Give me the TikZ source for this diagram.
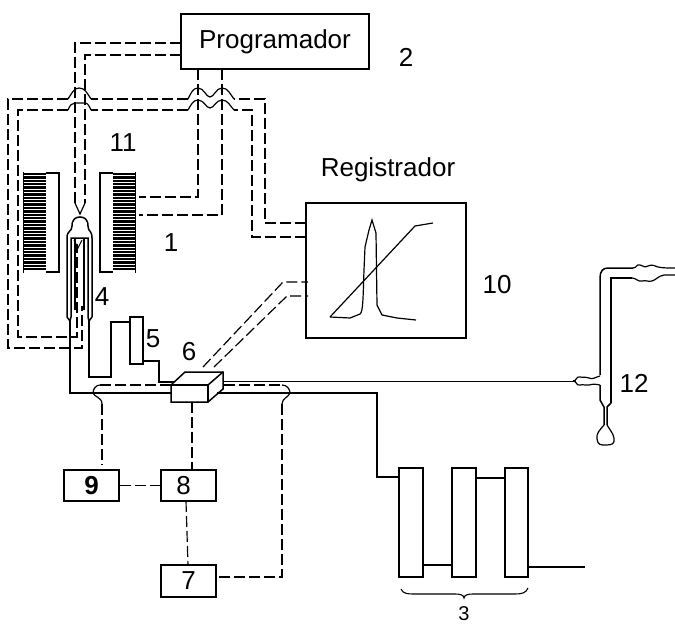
\documentclass[tikz,border=0pt]{standalone}
\usepackage{fontspec}
\setmainfont{Liberation Sans}
\tikzset{
  box/.style={draw=black,line width=1.4pt,fill=white,minimum height=31pt,minimum width=55pt,inner sep=0pt,font=\fontsize{26}{28}\selectfont},
  lbl/.style={inner sep=0pt,font=\fontsize{26}{28}\selectfont},
  sig/.style={draw=black,line width=1.15pt,dash pattern=on 11pt off 4pt},
  thinsig/.style={draw=black,line width=1.2pt,dash pattern=on 11pt off 4pt},
  jump/.style={draw=black,line width=1.2pt},
  pipe/.style={draw=black,line width=1.5pt},
  trace/.style={draw=black,line width=1.2pt},
  col/.style={draw=black,line width=1.4pt,fill=white},
  hatch/.style={draw=black,line width=2.5pt}
}
\begin{document}
\begin{tikzpicture}[x=1pt,y=-1pt]
\useasboundingbox (0,0) rectangle (675,629);
% signal lines Programador
\coordinate (pa) at (181,43); \coordinate (pb) at (181,55);
\draw[sig] (pa) -- (75,43) -- (75,203);
\draw[sig] (pb) -- (85,55) -- (85,203);
\draw[draw=black,line width=1.2pt] (75,203) -- (80,214) -- (85,203);
\draw[sig] (198,69) -- (198,197) -- (139,197);
\draw[sig] (222,69) -- (222,215) -- (139,215);
% loops: dashed runs
\draw[sig] (306,237) -- (252,237) -- (252,110) -- (234,110);
\draw[sig] (188,110) -- (91,110);
\draw[sig] (68,110) -- (18,110) -- (18,337) -- (77,337) -- (77,244);
\draw[sig] (306,223) -- (265,223) -- (265,99) -- (234,99);
\draw[sig] (188,99) -- (91,99);
\draw[sig] (68,99) -- (8,99) -- (8,348) -- (82,348) -- (82,306);
% loops: jumps
\draw[jump] (68,99) .. controls (72,93) and (74,88) .. (79,88) .. controls (85,88) and (87,93) .. (91,99);
\draw[jump] (68,110) .. controls (70,105) and (72,103) .. (75,103) -- (85,103) .. controls (88,103) and (89,106) .. (91,110);
\draw[jump] (188,99) .. controls (191,93) and (193,88) .. (198,88) .. controls (204,88) and (206,97) .. (210,97) .. controls (214,97) and (216,88) .. (222,88) .. controls (228,88) and (230,94) .. (234,99);
\draw[jump] (188,110) .. controls (191,105) and (193,100) .. (198,100) .. controls (204,100) and (206,108) .. (210,108) .. controls (214,108) and (216,100) .. (222,100) .. controls (228,100) and (230,106) .. (234,110);
% furnace
\draw[draw=black,line width=1.2pt] (24,173) rectangle (59,272);
\draw[draw=black,line width=1.2pt] (100,173) rectangle (135,272);
\fill[white] (24,172) rectangle (46,273);
\fill[white] (113,172) rectangle (135,273);
\foreach \y in {174,177.4,...,272}{
  \draw[hatch] (24,\y) -- (46,\y);
  \draw[hatch] (113,\y) -- (135,\y);
}
% tube 4
\draw[pipe] (67,317) -- (67,238) .. controls (67,230) and (72,232) .. (72,226) .. controls (72,219) and (76,217) .. (80,217) .. controls (84,217) and (88,219) .. (88,226) .. controls (88,232) and (92,230) .. (92,238) -- (92,317);
\draw[pipe] (67,317) -- (70,321) -- (71,317) -- (71,238) -- (88,238) -- (88,317) -- (89,321) -- (92,317);
\draw[line width=1.1pt] (75,238) -- (75,310);
\draw[line width=1.1pt] (84,238) -- (84,310);
\draw[line width=1.1pt] (74,240) -- (78,248) -- (82,240);
% solid piping
\node[draw=black,line width=1.3pt,fill=white,minimum width=13pt,minimum height=47pt,inner sep=0pt] (five) at (136.5,340.5) {};
\draw[pipe] (70,321) -- (70,393) -- (171,393);
\draw[pipe] (89,321) -- (89,377) -- (111,377) -- (111,322) -- (130,322);
\draw[pipe] (143,361) -- (159,361) -- (159,382) -- (176,382);
% dashed to registrador
\draw[thinsig] (203,367) -- (283,282) -- (308,282);
\draw[thinsig] (214,367) -- (287,296) -- (308,296);
% box 6
\draw[pipe,fill=white] (171,385) -- (185,372) -- (223,372) -- (223,389) -- (208,402) -- (171,402) -- cycle;
\draw[pipe] (171,385) -- (208,385) -- (208,402);
\draw[pipe] (208,385) -- (223,372);
% right piping
\draw[draw=black,line width=1pt] (223,381) -- (573,381);
\draw[pipe] (217,393) -- (377,393) -- (377,477) -- (400,477);
\draw[sig] (171,385) -- (100,385);
\draw[jump] (100,385) .. controls (96,385) and (93,389) .. (93,393) .. controls (94,397) and (102,397) .. (102,404);
\draw[sig] (102,404) -- (102,465);
\draw[sig] (224,385) -- (282,385);
\draw[jump] (282,385) .. controls (287,385) and (290,389) .. (290,393) .. controls (289,397) and (282,398) .. (282,404);
\draw[sig] (282,404) -- (282,577) -- (216,577);
% boxes
\node[box,font=\fontsize{26}{28}\bfseries\selectfont] (nine) at (91.5,485.5) {9};
\node[box] (eight) at (188.5,485.5) {\hspace{-10pt}8};
\node[box,minimum height=32pt] (seven) at (188.5,581) {7};
\draw[sig] (nine.east) -- (eight.west);
\draw[sig] (192,402) -- (192,470);
\draw[sig] (186,501) -- (188,565);
% Programador, Registrador
\node[draw=black,line width=1.4pt,fill=white,minimum width=188pt,minimum height=55pt,inner sep=0pt,font=\fontsize{26}{28}\selectfont] (prog) at (275,41.5) {Programador};
\draw[draw=black,line width=1.5pt] (306,203) rectangle (466,338);
\node[lbl] (reg) at (388,170) {Registrador};
\draw[trace] (330,317) -- (350,318) -- (360,314) .. controls (363,312) and (363,300) .. (364,270) -- (365,247) -- (369,230) -- (372,220) -- (376,233) -- (377,305) -- (382,315) -- (397,318) -- (416,320);
\draw[trace] (330,317) -- (415,226) -- (433,223);
% columns
\node[col,minimum width=24pt,minimum height=109pt,inner sep=0pt] (c1) at (411,522.5) {};
\node[col,minimum width=24pt,minimum height=109pt,inner sep=0pt] (c2) at (464,522.5) {};
\node[col,minimum width=23pt,minimum height=109pt,inner sep=0pt] (c3) at (516.5,522.5) {};
\draw[pipe] (423,565) -- (452,565);
\draw[pipe] (476,478) -- (505,478);
\draw[draw=black,line width=1.2pt] (528,567) -- (585,567);
\draw[line width=1.1pt] (401,589) .. controls (403,594) and (408,594) .. (415,594) -- (455,594) .. controls (460,594) and (464,595) .. (464,598) .. controls (464,595) and (468,594) .. (473,594) -- (515,594) .. controls (522,594) and (526,593) .. (528,588);
% 12 apparatus
\draw[pipe] (600,375) -- (600,278) .. controls (600,271) and (603,268) .. (608,268) -- (633,268);
\draw[pipe] (611,403) -- (611,278) -- (632,278);
\draw[pipe] (600,385) -- (600,400) -- (604,407) -- (604,425);
\draw[pipe] (611,403) -- (607,407) -- (607,425);
\draw[jump] (604,425) .. controls (600,430) and (596,433) .. (597,439) .. controls (598,445) and (600,445) .. (606,445) .. controls (612,445) and (615,444) .. (614,438) .. controls (613,433) and (610,430) .. (607,425);
\draw[jump] (633,268) .. controls (637,268) and (636,264) .. (640,265) .. controls (644,266) and (644,268) .. (648,266) .. controls (652,264) and (655,266) .. (658,267) .. controls (662,268) and (668,268) .. (675,268);
\draw[jump] (632,278) .. controls (636,278) and (638,282) .. (642,281) .. controls (646,280) and (648,282) .. (652,281) .. controls (656,280) and (658,276) .. (664,275) -- (675,275);
\draw[jump] (573,381) .. controls (577,381) and (576,376) .. (580,377) .. controls (584,378) and (586,376) .. (589,378) .. controls (592,380) and (596,377) .. (600,376);
\draw[jump] (573,381) .. controls (577,381) and (576,386) .. (580,385) .. controls (584,384) and (586,386) .. (589,385) .. controls (592,384) and (596,384) .. (600,385);
% labels
\node[lbl] (l2) at (406,57) {2};
\node[lbl] (l11) at (123,143) {11};
\node[lbl] (l1) at (171,243) {1};
\node[lbl] (l4) at (102,297) {4};
\node[lbl] (l5) at (153,339) {5};
\node[lbl] (l6) at (189,352) {6};
\node[lbl] (l10) at (497,285) {10};
\node[lbl] (l12) at (634,383) {12};
\node[lbl,font=\fontsize{20}{22}\selectfont] (l3) at (464,614) {3};
\end{tikzpicture}
\end{document}
